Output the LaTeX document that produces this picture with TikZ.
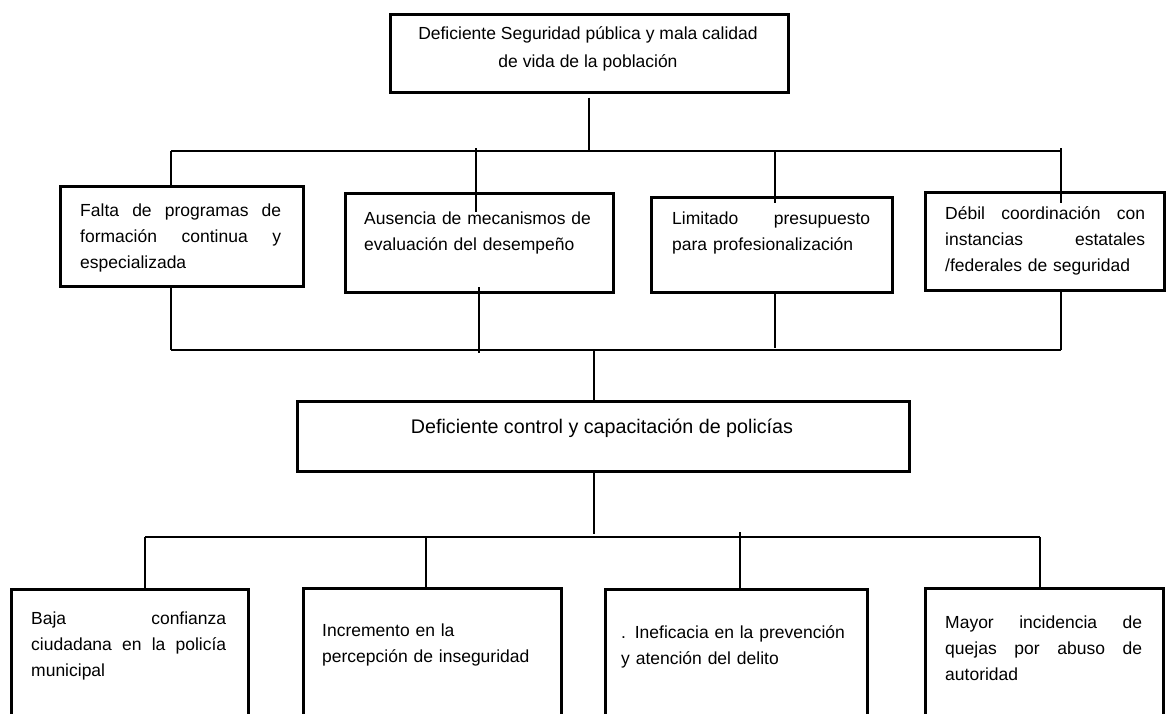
\documentclass[tikz,border=0pt]{standalone}
\usepackage{fontspec}
\setmainfont{Liberation Sans}
\newcommand{\jl}[2]{\leavevmode\hbox to #1{#2}}
\begin{document}
\begin{tikzpicture}[x=1pt,y=-1pt,
  box/.style={draw, line width=2.5pt, anchor=north west, inner sep=0pt},
  conn/.style={line width=2.3pt},
  txt/.style={anchor=base west, inner sep=0pt, align=left, text width=#1,
    font=\fontsize{17.5}{26}\selectfont},
  txt/.default=260pt]
\clip (0,0) rectangle (1167,713);
% boxes
\node[box, minimum width=398pt, minimum height=78pt] (top) at (389,13) {};
\node[box, minimum width=243pt, minimum height=100pt] (b1) at (59,185) {};
\node[box, minimum width=268pt, minimum height=99pt] (b2) at (344,192) {};
\node[box, minimum width=241pt, minimum height=95pt] (b3) at (650,196) {};
\node[box, minimum width=239pt, minimum height=98pt] (b4) at (924,191) {};
\node[box, minimum width=612pt, minimum height=70pt] (cb) at (296,400) {};
\node[box, minimum width=237pt, minimum height=150pt] (b5) at (10,588) {};
\node[box, minimum width=258pt, minimum height=150pt] (b6) at (302,587) {};
\node[box, minimum width=262pt, minimum height=150pt] (b7) at (604,588) {};
\node[box, minimum width=238pt, minimum height=150pt] (b8) at (924,587) {};
% texts
\node[align=center, inner sep=0pt, font=\fontsize{17.5}{28}\selectfont] (ttop) at (588,49)
  {Deficiente Seguridad pública y mala calidad\\de vida de la población};
\node[txt=201pt] (t1) at (80,216) {\jl{201pt}{Falta\hfill de\hfill programas\hfill de}\\\jl{201pt}{formación\hfill continua\hfill y}\\especializada};
\node[txt] (t2) at (364,224) {Ausencia de mecanismos de\\evaluación del desempeño};
\node[txt=198pt] (t3) at (672,224) {\jl{198pt}{Limitado\hfill presupuesto}\\para profesionalización};
\node[txt=200pt] (t4) at (945,219) {\jl{200pt}{Débil\hfill coordinación\hfill con}\\\jl{200pt}{instancias\hfill estatales}\\/federales de seguridad};
\node[inner sep=0pt, font=\fontsize{19.7}{24}\selectfont] (tc) at (602,428) {Deficiente control y capacitación de policías};
\node[txt=195pt] (t5) at (31,624) {\jl{195pt}{Baja\hfill confianza}\\\jl{195pt}{ciudadana\hfill en\hfill la\hfill policía}\\municipal};
\node[txt] (t6) at (322,636) {Incremento en la\\percepción de inseguridad};
\node[txt] (t7) at (621,638) {. Ineficacia en la prevención\\y atención del delito};
\node[txt=197pt] (t8) at (945,628) {\jl{197pt}{Mayor\hfill incidencia\hfill de}\\\jl{197pt}{quejas\hfill por\hfill abuso\hfill de}\\autoridad};
% upper connectors
\coordinate (ua) at (171,151);
\coordinate (ub) at (1061,151);
\coordinate (c2) at (476,148); \coordinate (d2) at (476,212);
\coordinate (c3) at (775,151); \coordinate (d3) at (775,203);
\coordinate (c4) at (1061,148); \coordinate (d4) at (1061,203);
\draw[conn] ([yshift=-4pt]top.south) -- (top.south |- ua);
\draw[conn] (ua) -- (ub);
\draw[conn] (ua) -- (b1.north -| ua);
\draw[conn] (c2) -- (d2);
\draw[conn] (c3) -- (d3);
\draw[conn] (c4) -- (d4);
% lower connectors of the cause row
\coordinate (la) at (171,350);
\coordinate (lb) at (1061,350);
\coordinate (e2) at (479,287); \coordinate (f2) at (479,353);
\coordinate (e3) at (775,348);
\coordinate (m1) at (594,350);
\draw[conn] (b1.south -| la) -- (la);
\draw[conn] (e2) -- (f2);
\draw[conn] (b3.south -| e3) -- (e3);
\draw[conn] (b4.south -| lb) -- (lb);
\draw[conn] (la) -- (lb);
\draw[conn] (m1) -- (cb.north -| m1);
% effects
\coordinate (m2) at (594,534);
\coordinate (ga) at (145,537);
\coordinate (gb) at (1040,537);
\coordinate (g6) at (426,537);
\coordinate (g7) at (740,532);
\draw[conn] (cb.south -| m2) -- (m2);
\draw[conn] (ga) -- (gb);
\draw[conn] (ga) -- (b5.north -| ga);
\draw[conn] (g6) -- (b6.north -| g6);
\draw[conn] (g7) -- (b7.north -| g7);
\draw[conn] (gb) -- (b8.north -| gb);
\end{tikzpicture}
\end{document}
